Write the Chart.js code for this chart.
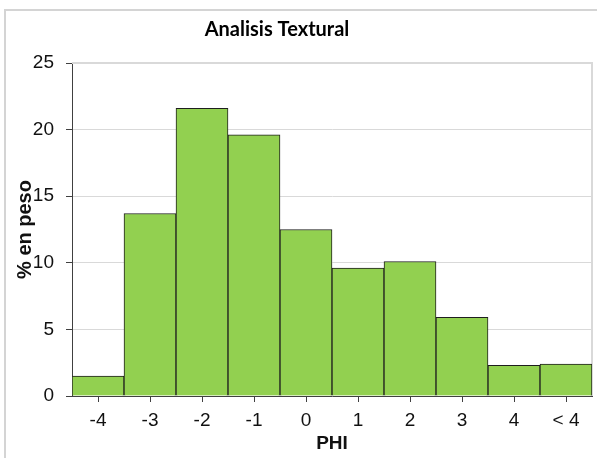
<!DOCTYPE html>
<html>
<head>
<meta charset="utf-8">
<script src="https://cdn.jsdelivr.net/npm/chart.js@4.4.0/dist/chart.umd.min.js"></script>
<style>
    html, body { margin: 0; padding: 0; background: #fff; }
    #wrap { position: relative; width: 597px; height: 458px; }
</style>
</head>
<body>
<div id="wrap"><canvas id="chart" width="597" height="458"></canvas></div>
<script>
// datos del grafico
const categorias = ['-4', '-3', '-2', '-1', '0', '1', '2', '3', '4', '< 4'];
const pesoPct = [1.5, 13.7, 21.6, 19.6, 12.5, 9.6, 10.1, 5.9, 2.3, 2.4];
const ticksY = [0, 5, 10, 15, 20, 25];

const tituloGrafico = 'Analisis Textural';

// borde exterior, borde del area de trazado y titulo
const decoracion = {
    id: 'decoracion',
    beforeDraw(chart) {
        const ctx = chart.ctx;
        ctx.save();
        ctx.strokeStyle = '#d4d4d4';
        ctx.lineWidth = 2;
        ctx.strokeRect(5, 10, 640, 500);
        ctx.restore();
    },
    beforeDatasetsDraw(chart) {
        const {ctx, chartArea} = chart;
        ctx.save();
        ctx.strokeStyle = '#d9d9d9';
        ctx.lineWidth = 2;
        ctx.beginPath();
        ctx.moveTo(chartArea.left, chartArea.top);
        ctx.lineTo(chartArea.right, chartArea.top);
        ctx.lineTo(chartArea.right, chartArea.bottom);
        ctx.stroke();
        ctx.restore();
    },
    afterDraw(chart) {
        const ctx = chart.ctx;
        ctx.save();
        ctx.font = 'bold 20px Lato, "Open Sans", sans-serif';
        ctx.fillStyle = '#000';
        ctx.textAlign = 'center';
        ctx.textBaseline = 'middle';
        ctx.fillText(tituloGrafico, 277, 30);
        ctx.restore();
    }
};

new Chart(document.getElementById('chart').getContext('2d'), {
    type: 'bar',
    data: {
        labels: categorias,
        datasets: [{
            label: '% en peso',
            data: pesoPct,
            backgroundColor: '#92D050',
            borderColor: '#1e1e1e',
            borderWidth: 1,
            categoryPercentage: 1.0,
            barPercentage: 1.0
        }]
    },
    options: {
        responsive: false,
        animation: false,
        layout: { padding: { top: 63, right: 5, bottom: 0, left: 0 } },
        plugins: {
            legend: { display: false },
            tooltip: { enabled: false },
            title: { display: false }
        },
        scales: {
            x: {
                afterFit(scale) { scale.height = 62; },
                grid: {
                    offset: false,
                    drawOnChartArea: false,
                    tickLength: 6,
                    tickColor: '#404040'
                },
                border: { color: '#404040', width: 1 },
                ticks: {
                    color: '#111',
                    padding: 7,
                    maxRotation: 0,
                    font: { family: '"Liberation Sans", Arial, sans-serif', size: 19 }
                },
                title: {
                    display: true,
                    text: 'PHI',
                    color: '#111',
                    padding: { top: 0, bottom: 3 },
                    font: { family: '"Liberation Sans", Arial, sans-serif', size: 19, weight: 'bold' }
                }
            },
            y: {
                min: 0,
                max: 25,
                afterFit(scale) { scale.width = 72; },
                afterBuildTicks(scale) { scale.ticks = ticksY.map(v => ({ value: v })); },
                grid: {
                    color: '#d9d9d9',
                    tickColor: '#404040',
                    tickLength: 6
                },
                border: { color: '#404040', width: 1 },
                ticks: {
                    color: '#111',
                    padding: 12,
                    font: { family: '"Liberation Sans", Arial, sans-serif', size: 19 }
                },
                title: {
                    display: true,
                    text: '% en peso',
                    color: '#111',
                    padding: { top: 13, bottom: 0 },
                    font: { family: '"Liberation Sans", Arial, sans-serif', size: 20, weight: 'bold' }
                }
            }
        }
    },
    plugins: [decoracion]
});
</script>
</body>
</html>
